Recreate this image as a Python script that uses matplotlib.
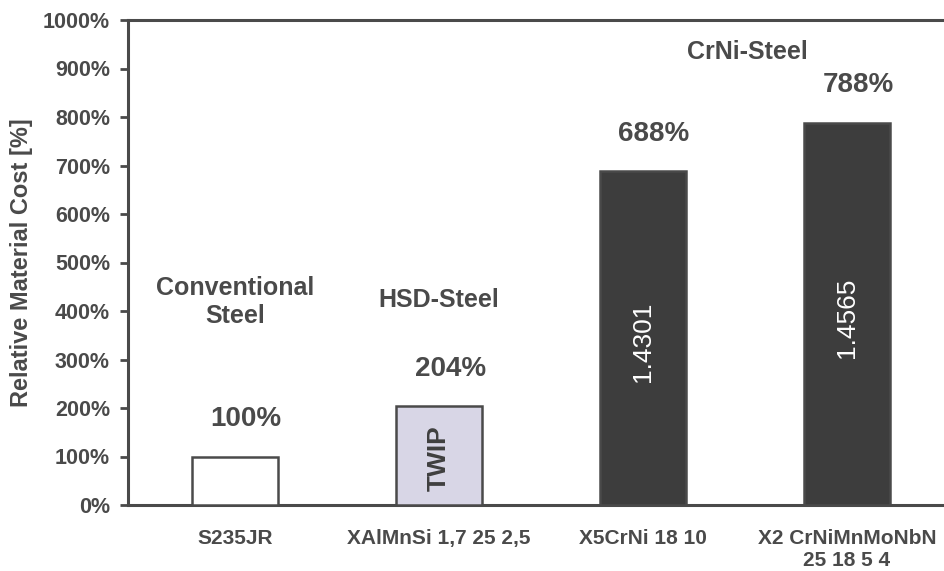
import matplotlib
matplotlib.use("Agg")
import matplotlib.pyplot as plt

# material cost relative to S235JR
categories = ["S235JR", "XAlMnSi 1,7 25 2,5", "X5CrNi 18 10", "X2 CrNiMnMoNbN\n25 18 5 4"]
cost_pct = [100, 204, 688, 788]
bar_notes = ["", "TWIP", "1.4301", "1.4565"]
yticks = list(range(0, 1001, 100))

plt.rcParams['font.family'] = ['Liberation Sans', 'DejaVu Sans']
grey = '#4a4a4a'
fills = ['#ffffff', '#d8d6e6', '#3d3d3d', '#3d3d3d']

fig = plt.figure(figsize=(9.44, 5.71), dpi=100)
ax = fig.add_axes([128 / 944, 66 / 571, 826 / 944, 485 / 571])

x = list(range(len(categories)))
ax.bar(x, cost_pct, width=0.42, color=fills, edgecolor=grey, linewidth=1.8, zorder=3)

ax.set_xlim(-0.525, 3.525)
ax.set_ylim(0, 1000)
ax.set_yticks(yticks)
ax.set_yticklabels([f"{t}%" for t in yticks])
ax.set_xticks(x)
ax.set_xticklabels(categories, multialignment='center')

ax.tick_params(axis='y', direction='out', length=6, width=2, color=grey,
               labelsize=15.5, labelcolor=grey, pad=7)
ax.tick_params(axis='x', length=0, labelsize=15, labelcolor=grey, pad=17)
for lbl in ax.get_xticklabels() + ax.get_yticklabels():
    lbl.set_fontweight('bold')

for s in ax.spines.values():
    s.set_color(grey)
    s.set_linewidth(2.2)

# value labels above bars
for xi, v in zip(x, cost_pct):
    ax.annotate(f"{v}%", (xi, v), xytext=(8, 27), textcoords='offset points',
                ha='center', va='center', fontsize=20, fontweight='bold', color=grey)

# grade numbers written inside the bars
ax.text(1, cost_pct[1] * 0.475, bar_notes[1], rotation=90, ha='center', va='center',
        fontsize=19, fontweight='bold', color='#3f3f3f', zorder=4)
for xi in (2, 3):
    ax.text(xi, cost_pct[xi] * 0.49, bar_notes[xi], rotation=90, ha='center', va='center',
            fontsize=19, color='white', zorder=4)

# steel group captions
group_kw = dict(ha='center', va='center', fontsize=18, fontweight='bold', color=grey)
ax.text(0, 419, "Conventional\nSteel", linespacing=1.2, **group_kw)
ax.text(1, 423, "HSD-Steel", **group_kw)
ax.text(2.51, 934, "CrNi-Steel", **group_kw)

fig.text(22 / 944, 0.54, "Relative Material Cost [%]", rotation=90, ha='center', va='center',
         fontsize=17, fontweight='bold', color=grey)

fig.savefig("out.png", dpi=100)
